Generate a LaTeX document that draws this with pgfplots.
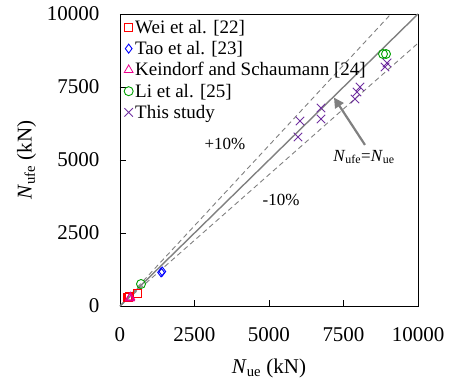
\documentclass[border=0pt]{standalone}
\usepackage{fontspec}
\setmainfont{Liberation Serif}
\usepackage{pgfplots}
\pgfplotsset{compat=1.18}
\usetikzlibrary{arrows.meta}
\definecolor{cpurple}{RGB}{112,48,160}
\definecolor{cgreen}{RGB}{0,160,0}
\definecolor{cgray}{RGB}{128,128,128}
\begin{document}
\begin{tikzpicture}
\useasboundingbox (-120pt,-79pt) rectangle (330pt,306pt);
\begin{axis}[
  at={(0pt,0pt)}, anchor=south west,
  scale only axis, width=298pt, height=292pt,
  xmin=0, xmax=10000, ymin=0, ymax=10000,
  xtick={0,2500,5000,7500,10000},
  ytick={0,2500,5000,7500,10000},
  scaled ticks=false,
  tick pos=left, tick align=inside,
  major tick length=6pt,
  axis line style={line width=0.9pt},
  tick style={line width=0.9pt, black},
  /pgf/number format/assume math mode=true,
  /pgf/number format/set thousands separator={},
  /pgf/number format/fixed,
  ticklabel style={font=\fontsize{21}{21}\selectfont},
  xticklabel style={yshift=-18pt},
  yticklabel style={xshift=-17pt},
  xlabel={\textit{N}\textsubscript{ue} (kN)},
  ylabel={\textit{N}\textsubscript{ufe} (kN)},
  label style={font=\fontsize{21}{21}\selectfont},
  xlabel style={yshift=-10pt},
  ylabel style={yshift=4pt},
  legend style={at={(0.01,0.99)}, anchor=north west, draw=none, fill=none,
    font=\fontsize{19}{19}\selectfont, row sep=2.5pt,
    legend cell align=left, inner sep=1pt},
  legend image code/.code={\draw[#1] (0pt,0pt) plot coordinates {(0.3em,0pt)};},
  clip=false,
]
\addplot[only marks, mark=square, mark size=4pt, red, line width=0.8pt] coordinates {
(570,445) (268,308) (250,280) (300,330)};
\addlegendentry{Wei et al. [22]}
\addplot[only marks, mark=diamond, mark size=4.5pt, blue, line width=0.9pt] coordinates {
(1380,1150) (1420,1180)};
\addlegendentry{Tao et al. [23]}
\addplot[only marks, mark=triangle, mark size=5pt, magenta, line width=0.8pt] coordinates {
(320,260) (350,300) (336,274)};
\addlegendentry{Keindorf and Schaumann [24]}
\addplot[only marks, mark=o, mark size=4.5pt, cgreen, line width=0.9pt] coordinates {
(8826,8630) (8926,8630) (705,753)};
\addlegendentry{Li et al. [25]}
\addplot[only marks, mark=x, mark size=6pt, cpurple, line width=0.9pt] coordinates {
(5973,5788) (6040,6336) (6745,6781) (6745,6404) (7886,7089) (7953,7329) (8054,7500) (8960,8322) (8893,8185)};
\addlegendentry{This study}
\addplot[cgray, line width=1.4pt, forget plot] coordinates {(0,0) (10000,10000)};
\addplot[cgray, line width=0.9pt, dash pattern=on 5pt off 3.5pt, forget plot] coordinates {(0,0) (9091,10000)};
\addplot[cgray, line width=0.9pt, dash pattern=on 5pt off 3.5pt, forget plot] coordinates {(0,0) (10000,9000)};
\node[font=\fontsize{17}{17}\selectfont] at (axis cs:3523,5548) {+10\%};
\node[font=\fontsize{17}{17}\selectfont] at (axis cs:5403,3630) {-10\%};
\node[font=\fontsize{17}{17}\selectfont] at (axis cs:8188,5103) {\textit{N}\textsubscript{ufe}=\textit{N}\textsubscript{ue}};
\draw[cgray, line width=2.2pt, -{Triangle[length=10pt,width=10pt]}] (axis cs:8221,5517) -- (axis cs:7181,7138);
\end{axis}
\end{tikzpicture}
\end{document}
